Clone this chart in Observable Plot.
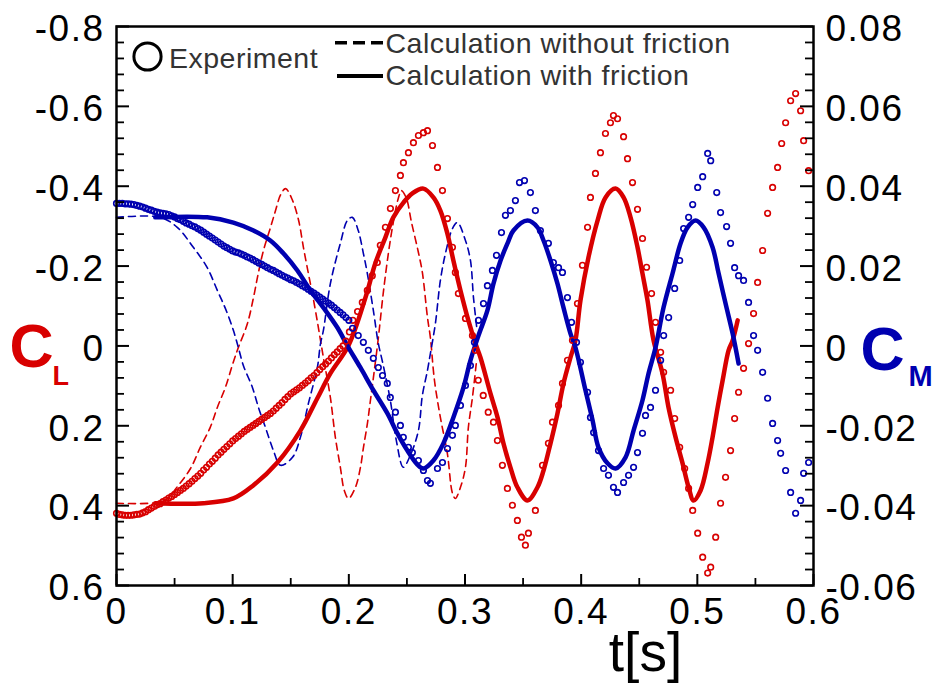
<!DOCTYPE html>
<html><head><meta charset="utf-8">
<script src="https://cdn.jsdelivr.net/npm/d3@7"></script>
<script src="https://cdn.jsdelivr.net/npm/@observablehq/plot@0.6"></script>
<style>
html,body{margin:0;padding:0;background:#fff;}
#chart{width:938px;height:684px;}
g[aria-label="x-axis tick label"] text,
g[aria-label="y-axis tick label"] text{letter-spacing:1.5px;}
</style></head><body><div id="chart"></div>
<script>
// ---- tick values and labels ----
const tTicks = [0, 0.1, 0.2, 0.3, 0.4, 0.5, 0.6];
const tTickLabels = ["0", "0.1", "0.2", "0.3", "0.4", "0.5", "0.6"];
const tMinorTicks = [0.05, 0.15, 0.25, 0.35, 0.45, 0.55];
const clTicks = [-0.8, -0.6, -0.4, -0.2, 0, 0.2, 0.4, 0.6];
const clTickLabels = ["-0.8", "-0.6", "-0.4", "-0.2", "0", "0.2", "0.4", "0.6"];
const cmTickLabels = ["0.08", "0.06", "0.04", "0.02", "0", "-0.02", "-0.04", "-0.06"];
const clMinorTicks = [-0.76,-0.72,-0.68,-0.64,-0.56,-0.52,-0.48,-0.44,-0.36,-0.32,-0.28,-0.24,-0.16,-0.12,-0.08,-0.04,0.04,0.08,0.12,0.16,0.24,0.28,0.32,0.36,0.44,0.48,0.52,0.56];

// ---- series: [t (s), value] ----
// CL, experiment
const clExperiment = [
[0,0.419],[0.0025,0.422],[0.005,0.423],[0.0075,0.424],[0.01,0.424],[0.0125,0.424],[0.015,0.423],[0.0175,0.422],[0.02,0.421],[0.0225,0.418],
[0.025,0.415],[0.0275,0.41],[0.03,0.406],[0.0325,0.402],[0.035,0.398],[0.0375,0.395],[0.04,0.39],[0.0425,0.386],[0.045,0.381],[0.0475,0.377],
[0.05,0.372],[0.0525,0.367],[0.055,0.362],[0.0575,0.357],[0.06,0.351],[0.0625,0.345],[0.065,0.339],[0.0675,0.332],[0.07,0.326],[0.0725,0.319],
[0.075,0.311],[0.0775,0.304],[0.08,0.296],[0.0825,0.289],[0.085,0.281],[0.0875,0.273],[0.09,0.266],[0.0925,0.259],[0.095,0.252],[0.0975,0.245],
[0.1,0.238],[0.1025,0.232],[0.105,0.226],[0.1075,0.22],[0.11,0.214],[0.1125,0.209],[0.115,0.204],[0.1175,0.199],[0.12,0.194],[0.1225,0.189],
[0.125,0.184],[0.1275,0.179],[0.13,0.174],[0.1325,0.169],[0.135,0.163],[0.1375,0.156],[0.14,0.149],[0.1425,0.142],[0.145,0.134],[0.1475,0.127],
[0.15,0.12],[0.1525,0.115],[0.155,0.11],[0.1575,0.105],[0.16,0.099],[0.1625,0.093],[0.165,0.087],[0.1675,0.08],[0.17,0.074],[0.1725,0.067],
[0.175,0.059],[0.1775,0.052],[0.18,0.045],[0.1825,0.038],[0.185,0.03],[0.1875,0.022],[0.19,0.015],[0.1925,0.007],[0.195,0.0],[0.1975,-0.012],
[0.2005,-0.035],[0.2035,-0.064],[0.2075,-0.086],[0.2116,-0.109],[0.2159,-0.139],[0.2202,-0.176],[0.2245,-0.209],[0.2271,-0.252],[0.2315,-0.297],[0.2358,-0.344],
[0.2401,-0.389],[0.2444,-0.427],[0.247,-0.459],[0.2513,-0.484],[0.2556,-0.509],[0.2599,-0.527],[0.2642,-0.534],[0.2677,-0.539],[0.272,-0.502],[0.2763,-0.447],
[0.2806,-0.389],[0.2849,-0.319],[0.2892,-0.247],[0.2917,-0.184],[0.2943,-0.131],[0.3004,-0.069],[0.3064,-0.026],[0.309,0.011],[0.3114,0.086],[0.3157,0.124],
[0.32,0.166],[0.3245,0.191],[0.3279,0.237],[0.3322,0.299],[0.3365,0.357],[0.3408,0.399],[0.3451,0.437],[0.3486,0.479],[0.352,0.499],[0.3546,0.469],
[0.3606,0.412],[0.3667,0.299],[0.3718,0.244],[0.3753,0.191],[0.3805,0.149],[0.3839,0.094],[0.3882,0.036],[0.3925,-0.014],[0.3968,-0.106],[0.4011,-0.202],
[0.4055,-0.297],[0.408,-0.372],[0.4123,-0.432],[0.4166,-0.484],[0.4209,-0.532],[0.4252,-0.559],[0.4278,-0.577],[0.4313,-0.569],[0.4365,-0.524],[0.4399,-0.469],
[0.4442,-0.409],[0.4485,-0.342],[0.4528,-0.269],[0.4563,-0.197],[0.4606,-0.131],[0.464,-0.059],[0.4684,0.016],[0.471,0.066],[0.477,0.111],[0.4805,0.182],
[0.4848,0.254],[0.4891,0.307],[0.4925,0.357],[0.496,0.412],[0.5003,0.469],[0.5046,0.529],[0.5089,0.569],[0.5115,0.554],[0.5158,0.479],[0.52,0.394],
[0.5243,0.329],[0.5286,0.262],[0.5321,0.182],[0.5355,0.116],[0.5398,0.056],[0.5441,-0.006],[0.5484,-0.081],[0.5519,-0.159],[0.5562,-0.239],[0.5605,-0.332],
[0.5648,-0.397],[0.5691,-0.447],[0.5726,-0.507],[0.576,-0.559],[0.5803,-0.614],[0.5846,-0.632],[0.5889,-0.589],[0.5915,-0.514],[0.5958,-0.439]
];
// CM, experiment
const cmExperiment = [
[0,0.0357],[0.0025,0.0357],[0.005,0.0357],[0.0075,0.0356],[0.01,0.0356],[0.0125,0.0355],[0.015,0.0354],[0.0175,0.0352],[0.02,0.035],[0.0225,0.0348],
[0.025,0.0345],[0.0275,0.0342],[0.03,0.034],[0.0325,0.0337],[0.035,0.0335],[0.0375,0.0333],[0.04,0.0332],[0.0425,0.0331],[0.045,0.0329],[0.0475,0.0326],
[0.05,0.0323],[0.0525,0.0319],[0.055,0.0316],[0.0575,0.0312],[0.06,0.0308],[0.0625,0.0305],[0.065,0.0301],[0.0675,0.0298],[0.07,0.0294],[0.0725,0.029],
[0.075,0.0285],[0.0775,0.028],[0.08,0.0275],[0.0825,0.027],[0.085,0.0265],[0.0875,0.026],[0.09,0.0255],[0.0925,0.025],[0.095,0.0246],[0.0975,0.0242],
[0.1,0.0238],[0.1025,0.0235],[0.105,0.0233],[0.1075,0.023],[0.11,0.0227],[0.1125,0.0223],[0.115,0.022],[0.1175,0.0216],[0.12,0.0212],[0.1225,0.0208],
[0.125,0.0204],[0.1275,0.02],[0.13,0.0196],[0.1325,0.0192],[0.135,0.0189],[0.1375,0.0185],[0.14,0.0181],[0.1425,0.0177],[0.145,0.0173],[0.1475,0.017],
[0.15,0.0166],[0.1525,0.0163],[0.155,0.0159],[0.1575,0.0155],[0.16,0.0151],[0.1625,0.0147],[0.165,0.0142],[0.1675,0.0137],[0.17,0.0132],[0.1725,0.0127],
[0.175,0.0122],[0.1775,0.0117],[0.18,0.0112],[0.1825,0.0107],[0.185,0.0102],[0.1875,0.0096],[0.19,0.009],[0.1925,0.0084],[0.195,0.0078],[0.1975,0.0071],
[0.2,0.0064],[0.2032,0.0044],[0.2081,0.0026],[0.2125,0.0009],[0.2168,-0.0011],[0.2211,-0.0031],[0.2254,-0.0054],[0.229,-0.0074],[0.2331,-0.0094],[0.2357,-0.0129],
[0.2401,-0.0166],[0.2444,-0.0199],[0.2469,-0.0229],[0.2513,-0.0254],[0.2547,-0.0267],[0.2599,-0.0287],[0.2642,-0.0312],[0.2677,-0.0337],[0.2702,-0.0344],[0.2763,-0.0307],
[0.2806,-0.0292],[0.2849,-0.0257],[0.2892,-0.0224],[0.2917,-0.0199],[0.2961,-0.0149],[0.3004,-0.0099],[0.3047,-0.0049],[0.3081,0.0009],[0.3116,0.0064],[0.3159,0.0106],
[0.3193,0.0151],[0.3236,0.0189],[0.3271,0.0227],[0.3314,0.0284],[0.3348,0.0327],[0.3391,0.0339],[0.3434,0.0364],[0.3469,0.0409],[0.3512,0.0414],[0.3563,0.0384],
[0.3606,0.0339],[0.3649,0.0289],[0.3718,0.0257],[0.3761,0.0209],[0.3805,0.0196],[0.3839,0.0184],[0.3882,0.0121],[0.3917,0.0059],[0.396,0.0009],[0.3994,-0.0041],
[0.4055,-0.0116],[0.408,-0.0179],[0.4107,-0.0217],[0.4149,-0.0262],[0.4193,-0.0307],[0.4235,-0.0324],[0.4278,-0.0354],[0.4313,-0.0367],[0.4365,-0.0342],[0.4408,-0.0324],
[0.4451,-0.0304],[0.4485,-0.0267],[0.4528,-0.0219],[0.4554,-0.0174],[0.4597,-0.0154],[0.464,-0.0111],[0.4684,-0.0036],[0.471,0.0026],[0.4753,0.0071],[0.4805,0.0144],
[0.4848,0.0214],[0.4882,0.0294],[0.4925,0.0322],[0.496,0.0354],[0.5003,0.0397],[0.5046,0.0424],[0.5089,0.0482],[0.5115,0.0464],[0.5167,0.0384],[0.52,0.0334],
[0.5252,0.0299],[0.5286,0.0257],[0.5321,0.0196],[0.5355,0.0176],[0.5398,0.0164],[0.5441,0.0109],[0.5484,0.0026],[0.5519,-0.0011],[0.5562,-0.0066],[0.5605,-0.0131],
[0.5648,-0.0194],[0.5691,-0.0237],[0.5717,-0.0269],[0.576,-0.0312],[0.5803,-0.0367],[0.5846,-0.0419],[0.5889,-0.0387],[0.5915,-0.0319],[0.5958,-0.0292]
];
// CL, calculation without friction
const clNoFriction = [
[0,0.394],[0.029,0.394],[0.042,0.387],[0.0533,0.349],[0.0637,0.307],[0.0721,0.254],[0.0807,0.204],[0.0868,0.154],[0.0937,0.104],[0.1006,0.04],
[0.1049,0.004],[0.1127,-0.056],[0.1179,-0.121],[0.1222,-0.184],[0.1265,-0.239],[0.1326,-0.297],[0.1369,-0.339],[0.1412,-0.378],[0.1455,-0.394],[0.1516,-0.364],
[0.1568,-0.314],[0.1609,-0.247],[0.1652,-0.181],[0.1686,-0.131],[0.1729,-0.061],[0.1755,-0.016],[0.1781,0.029],[0.1841,0.129],[0.1884,0.229],[0.1927,0.304],
[0.1961,0.362],[0.1997,0.382],[0.2057,0.354],[0.21,0.304],[0.2126,0.254],[0.216,0.194],[0.2186,0.136],[0.222,0.06],[0.2254,-0.02],[0.2297,-0.134],
[0.234,-0.231],[0.2383,-0.31],[0.2426,-0.37],[0.2453,-0.389],[0.2495,-0.37],[0.2539,-0.31],[0.2599,-0.234],[0.2633,-0.184],[0.2677,-0.071],[0.2702,-0.021],
[0.2737,0.086],[0.2788,0.179],[0.2848,0.269],[0.2892,0.369],[0.2917,0.382],[0.2961,0.354],[0.3004,0.304],[0.3029,0.204],[0.3064,0.129],[0.31,0.036]
];
// CM, calculation without friction
const cmNoFriction = [
[0,0.0322],[0.0377,0.0322],[0.0523,0.0297],[0.0661,0.0247],[0.0781,0.0196],[0.0868,0.0139],[0.0937,0.0094],[0.1006,0.0039],[0.1049,-0.0004],[0.1092,-0.0049],
[0.117,-0.0104],[0.1222,-0.0154],[0.1282,-0.0204],[0.1351,-0.0262],[0.1412,-0.0299],[0.1515,-0.0279],[0.1583,-0.0229],[0.1652,-0.0144],[0.1729,-0.0054],[0.1755,0.0004],
[0.1781,0.0039],[0.1841,0.0156],[0.1927,0.0257],[0.1987,0.0314],[0.203,0.0322],[0.2081,0.0289],[0.2125,0.0232],[0.2159,0.0182],[0.2211,0.0089],[0.2254,0.0006],
[0.2289,-0.0039],[0.2357,-0.0136],[0.2409,-0.0237],[0.2469,-0.0304],[0.2529,-0.0274],[0.2599,-0.0212],[0.2633,-0.0124],[0.2677,-0.0061],[0.2702,-0.0019],[0.2745,0.0056],
[0.2788,0.0164],[0.2832,0.0232],[0.2892,0.0294],[0.2935,0.0309],[0.3004,0.0264],[0.3047,0.0214],[0.3073,0.0121],[0.31,0.0049]
];
// CL, calculation with friction
const clFriction = [
[0.0334,0.394],[0.0748,0.394],[0.1006,0.382],[0.1179,0.349],[0.1385,0.292],[0.1583,0.212],[0.1729,0.131],[0.1841,0.069],[0.1997,-0.001],[0.2143,-0.121],
[0.2228,-0.207],[0.2315,-0.272],[0.2383,-0.322],[0.247,-0.359],[0.2547,-0.382],[0.2642,-0.394],[0.2728,-0.372],[0.2788,-0.339],[0.2848,-0.282],[0.29,-0.214],
[0.2961,-0.139],[0.3029,-0.064],[0.309,-0.006],[0.3133,0.029],[0.3219,0.119],[0.328,0.179],[0.3331,0.244],[0.3391,0.304],[0.3451,0.354],[0.3538,0.387],
[0.3624,0.354],[0.3676,0.312],[0.3736,0.244],[0.3796,0.169],[0.3848,0.094],[0.3908,0.029],[0.3951,-0.014],[0.3994,-0.114],[0.4063,-0.222],[0.4141,-0.314],
[0.421,-0.372],[0.4296,-0.394],[0.4365,-0.372],[0.4425,-0.322],[0.4485,-0.247],[0.4528,-0.181],[0.4571,-0.114],[0.4623,-0.014],[0.47,0.069],[0.4752,0.154],
[0.4813,0.229],[0.4873,0.294],[0.4925,0.354],[0.4968,0.387],[0.5028,0.362],[0.5088,0.294],[0.5131,0.229],[0.5175,0.154],[0.5218,0.086],[0.5269,0.011],
[0.5304,-0.014],[0.5347,-0.064]
];
// CM, calculation with friction
const cmFriction = [
[0.0334,0.0322],[0.0781,0.0322],[0.1006,0.0309],[0.1179,0.0289],[0.1324,0.0264],[0.1436,0.0232],[0.1557,0.0189],[0.1669,0.0139],[0.1781,0.0096],[0.1901,0.0046],
[0.1987,0.0001],[0.2099,-0.0054],[0.2211,-0.0111],[0.2332,-0.0169],[0.2418,-0.0219],[0.2504,-0.0262],[0.259,-0.0297],[0.2642,-0.0307],[0.2728,-0.0287],[0.2814,-0.0244],
[0.29,-0.0179],[0.2987,-0.0104],[0.3047,-0.0036],[0.3116,0.0026],[0.3193,0.0089],[0.3245,0.0156],[0.3306,0.0214],[0.3366,0.0257],[0.3417,0.0289],[0.3538,0.0314],
[0.3624,0.0297],[0.3676,0.0264],[0.3736,0.0214],[0.3796,0.0156],[0.3848,0.0096],[0.3908,0.0031],[0.3951,-0.0004],[0.4037,-0.0111],[0.4098,-0.0186],[0.4149,-0.0254],
[0.4227,-0.0294],[0.4296,-0.0307],[0.4382,-0.0279],[0.4451,-0.0212],[0.4528,-0.0136],[0.458,-0.0069],[0.464,-0.0004],[0.4709,0.0096],[0.4787,0.0182],[0.4856,0.0257],
[0.4916,0.0297],[0.4985,0.0314],[0.5054,0.0297],[0.5131,0.0247],[0.5183,0.0182],[0.5243,0.0106],[0.5304,0.0031],[0.5355,-0.0044]
];

const RED = "#d80000", BLUE = "#0000b0";
const FONT = "'Liberation Sans', Arial, Helvetica, sans-serif";
const cmToCl = v => -10 * v;   // right axis: CM = -CL/10

function legend(index, scales, values, dims) {
  const ox = dims.marginLeft, oy = dims.marginTop;
  const g = d3.create("svg:g").attr("aria-label", "legend")
    .attr("font-family", FONT).attr("font-size", 28.5).attr("fill", "#333")
    .attr("text-anchor", "start")
    .style("letter-spacing", "0.5px");
  g.append("circle").attr("cx", ox + 31.5).attr("cy", oy + 30.5).attr("r", 13.6)
    .attr("fill", "none").attr("stroke", "#000").attr("stroke-width", 3);
  g.append("text").attr("x", ox + 53).attr("y", oy + 41.7).text("Experiment");
  g.append("line").attr("x1", ox + 219).attr("x2", ox + 267).attr("y1", oy + 16.7).attr("y2", oy + 16.7)
    .attr("stroke", "#000").attr("stroke-width", 3.5).attr("stroke-dasharray", "12,6");
  g.append("text").attr("x", ox + 269.5).attr("y", oy + 26.7).text("Calculation without friction");
  g.append("line").attr("x1", ox + 221).attr("x2", ox + 267).attr("y1", oy + 50).attr("y2", oy + 50)
    .attr("stroke", "#000").attr("stroke-width", 4);
  g.append("text").attr("x", ox + 269.5).attr("y", oy + 59).text("Calculation with friction");
  return g.node();
}

const chart = Plot.plot({
  width: 938, height: 684,
  marginLeft: 116, marginRight: 125, marginTop: 26, marginBottom: 99,
  x: {domain: [0, 0.6]},
  y: {domain: [0.6, -0.8]},
  style: {fontFamily: FONT, background: "#fff", color: "#000", overflow: "visible"},
  marks: [
    // calculations without friction (dashed)
    Plot.line(clNoFriction, {x: d => d[0], y: d => d[1], stroke: RED, strokeWidth: 1.6, strokeDasharray: "7,5", curve: "catmull-rom"}),
    Plot.line(cmNoFriction, {x: d => d[0], y: d => cmToCl(d[1]), stroke: BLUE, strokeWidth: 1.6, strokeDasharray: "7,5", curve: "catmull-rom"}),
    // calculations with friction (solid)
    Plot.line(clFriction, {x: d => d[0], y: d => d[1], stroke: RED, strokeWidth: 4.5, curve: "catmull-rom"}),
    Plot.line(cmFriction, {x: d => d[0], y: d => cmToCl(d[1]), stroke: BLUE, strokeWidth: 4.5, curve: "catmull-rom"}),
    // experiments (open circles)
    Plot.dot(clExperiment, {x: d => d[0], y: d => d[1], r: 2.8, stroke: RED, strokeWidth: 1.6, fill: "none"}),
    Plot.dot(cmExperiment, {x: d => d[0], y: d => cmToCl(d[1]), r: 2.8, stroke: BLUE, strokeWidth: 1.6, fill: "none"}),
    // frame and inward ticks
    Plot.frame({stroke: "#000", strokeWidth: 2.5}),
    Plot.tickX(tTicks, {x: d => d, insetTop: 548, stroke: "#000", strokeWidth: 2}),
    Plot.tickX(tMinorTicks, {x: d => d, insetTop: 552, stroke: "#000", strokeWidth: 1.8}),
    Plot.tickY(clTicks, {y: d => d, insetRight: 684, stroke: "#000", strokeWidth: 2}),
    Plot.tickY(clMinorTicks, {y: d => d, insetRight: 689, stroke: "#000", strokeWidth: 1.8}),
    Plot.tickY(clTicks, {y: d => d, insetLeft: 684, stroke: "#000", strokeWidth: 2}),
    Plot.tickY(clMinorTicks, {y: d => d, insetLeft: 689, stroke: "#000", strokeWidth: 1.8}),
    // axes labels
    Plot.axisX({ticks: tTicks, tickFormat: d => tTickLabels[tTicks.indexOf(d)], tickSize: 0, tickPadding: 12, fontSize: 37, label: null}),
    Plot.axisY({anchor: "left", ticks: clTicks, tickFormat: d => clTickLabels[clTicks.indexOf(d)], tickSize: 0, tickPadding: 12, fontSize: 37, dy: 3, label: null}),
    Plot.axisY({anchor: "right", ticks: clTicks, tickFormat: d => cmTickLabels[clTicks.indexOf(d)], tickSize: 0, tickPadding: 12, fontSize: 37, dy: 3, label: null}),
    // axis titles
    Plot.text(["t[s]"], {frameAnchor: "bottom", text: d => d, dx: 180.5, dy: 85, textAnchor: "middle", lineAnchor: "bottom", fontSize: 55, fill: "#000"}),
    Plot.text(["C"], {frameAnchor: "left", text: d => d, dx: -107, dy: 60.5, textAnchor: "start", lineAnchor: "bottom", fontSize: 61, fontWeight: "bold", fill: RED}),
    Plot.text(["L"], {frameAnchor: "left", text: d => d, dx: -64, dy: 78.5, textAnchor: "start", lineAnchor: "bottom", fontSize: 27, fontWeight: "bold", fill: RED}),
    Plot.text(["C"], {frameAnchor: "right", text: d => d, dx: 47, dy: 63.5, textAnchor: "start", lineAnchor: "bottom", fontSize: 61, fontWeight: "bold", fill: BLUE}),
    Plot.text(["M"], {frameAnchor: "right", text: d => d, dx: 95, dy: 79.5, textAnchor: "start", lineAnchor: "bottom", fontSize: 29, fontWeight: "bold", fill: BLUE}),
    legend
  ]
});
document.getElementById("chart").appendChild(chart);
</script></body></html>
